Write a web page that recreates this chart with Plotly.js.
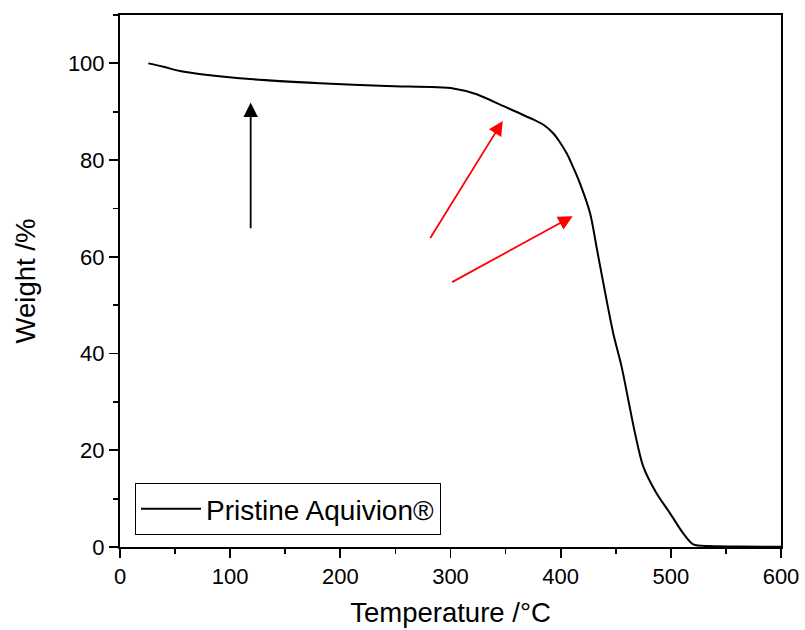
<!DOCTYPE html>
<html>
<head>
<meta charset="utf-8">
<script src="https://cdn.plot.ly/plotly-3.0.1.min.js"></script>
<style>html,body{margin:0;padding:0;background:#fff;}#chart{width:805px;height:630px;}</style>
</head>
<body>
<div id="chart"></div>
<script>
// Temperature (°C) and weight (%)
const temperature = [25.7, 39.3, 54.5, 75.6, 121, 181.5, 242, 302.5, 323.7, 347.6, 375, 385, 393, 399, 405.7, 411, 417.5, 426.6, 433, 438.7, 447.7, 455.3, 461.4, 467.5, 475, 487, 499.2, 511.3, 520.4, 535.5, 560, 600];
const weight      = [100, 99.3, 98.4, 97.7, 96.7, 95.9, 95.3, 94.8, 93.6, 91.2, 88.4, 87.2, 85.6, 83.8, 81.3, 78.7, 75.2, 69.1, 61.5, 54.6, 44.2, 37.3, 30.4, 23.5, 16.6, 11.1, 7.0, 2.8, 0.55, 0.2, 0.1, 0.05];
const seriesName = 'Pristine Aquivion®';

// Arrows: [tailX, tailY, headX, headY] in data units
const blackArrow = [118.6, 65.6, 118.6, 91.9];
const redArrow1  = [280.8, 63.6, 347.4, 88.1];
const redArrow2  = [300.1, 54.6, 410.9, 68.4];

const font = 'Arial, "Liberation Sans", sans-serif';

function arrow(a, color) {
  return {
    x: a[2], y: a[3], ax: a[0], ay: a[1],
    xref: 'x', yref: 'y', axref: 'x', ayref: 'y',
    showarrow: true, arrowhead: 2, arrowsize: 1.6, arrowwidth: 1.8,
    arrowcolor: color, text: ''
  };
}

const trace = {
  x: temperature, y: weight, type: 'scatter', mode: 'lines',
  name: seriesName, line: {color: '#000', width: 2, shape: 'spline', smoothing: 0.8}
};

const axisCommon = {
  showgrid: false, zeroline: false, showline: true, linecolor: '#000', linewidth: 2,
  mirror: true, ticks: 'outside', ticklen: 9, tickwidth: 1.8, tickcolor: '#000',
  tickfont: {family: font, size: 22, color: '#000'}
};

const layout = {
  width: 805, height: 630,
  margin: {l: 120, r: 24, t: 15, b: 83},
  paper_bgcolor: '#fff', plot_bgcolor: '#fff',
  font: {family: font, color: '#000'},
  xaxis: Object.assign({}, axisCommon, {
    range: [0, 600], dtick: 100, tick0: 0,
    minor: {dtick: 50, ticks: 'outside', ticklen: 5, tickwidth: 1.8, tickcolor: '#000'},
    title: {text: 'Temperature /°C', font: {family: font, size: 27.5, color: '#000'}, standoff: 14}
  }),
  yaxis: Object.assign({}, axisCommon, {
    range: [0, 110], dtick: 20, tick0: 0,
    minor: {dtick: 10, ticks: 'outside', ticklen: 5, tickwidth: 1.8, tickcolor: '#000'},
    title: {text: 'Weight /%', font: {family: font, size: 27.5, color: '#000'}, standoff: 24}
  }),
  showlegend: true,
  legend: {
    x: 0.0227, y: 0.0226, xanchor: 'left', yanchor: 'bottom',
    bgcolor: '#fff', bordercolor: '#000', borderwidth: 1,
    font: {family: font, size: 28, color: '#000'}, itemwidth: 60
  },
  annotations: [arrow(blackArrow, '#000'), arrow(redArrow1, '#ff0000'), arrow(redArrow2, '#ff0000')]
};

Plotly.newPlot('chart', [trace], layout, {displayModeBar: false, staticPlot: true});
</script>
</body>
</html>
